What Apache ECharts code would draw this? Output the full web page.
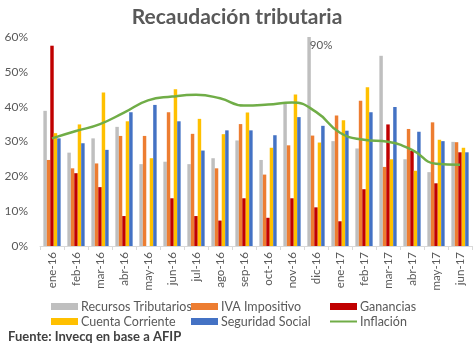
<!DOCTYPE html>
<html>
<head>
<meta charset="utf-8">
<script src="https://cdn.jsdelivr.net/npm/echarts@6/dist/echarts.min.js"></script>
<style>html,body{margin:0;padding:0;background:#fff}#c{width:474px;height:346px}</style>
</head>
<body>
<div id="c"></div>
<script>
const categories = ['ene-16','feb-16','mar-16','abr-16','may-16','jun-16','jul-16','ago-16','sep-16','oct-16','nov-16','dic-16','ene-17','feb-17','mar-17','abr-17','may-17','jun-17'];
const recursosTributarios = [38.8, 26.8, 30.9, 34.2, 23.5, 24.2, 23.5, 25.2, 30.3, 24.7, 40.8, 90, 30.1, 28.0, 54.6, 24.9, 21.2, 29.9];
const ivaImpositivo       = [24.7, 22.3, 23.7, 31.6, 31.6, 38.4, 32.2, 22.3, 35.0, 20.5, 28.9, 31.7, 37.5, 41.7, 22.7, 33.6, 35.5, 29.8];
const ganancias           = [57.5, 20.9, 16.9, 8.6, -0.4, 13.7, 8.6, 7.3, 13.7, 8.1, 13.7, 11.1, 7.1, 16.3, 34.9, 27.3, 18.0, 26.9];
const cuentaCorriente     = [32.4, 34.9, 44.1, 35.8, 25.2, 45.0, 36.5, 32.1, 38.3, 28.2, 43.5, 29.7, 36.1, 45.6, 24.9, 21.6, 30.5, 28.2];
const seguridadSocial     = [30.9, 29.5, 27.6, 38.4, 40.5, 35.8, 27.4, 33.2, 33.2, 31.8, 37.0, 34.5, 33.1, 38.4, 39.9, 32.8, 30.1, 26.9];
const inflacion           = [30.9, 33.0, 35.0, 38.3, 41.8, 42.9, 43.4, 42.4, 40.3, 40.6, 41.2, 38.5, 32.5, 30.5, 29.9, 27.6, 23.6, 23.3];
const yTicks = [0, 10, 20, 30, 40, 50, 60];
const clippedLabel = {category: 'dic-16', text: '90%'};

const colors = ['#BFBFBF', '#ED7D31', '#C00000', '#FFC000', '#4472C4', '#70AD47'];
const names = ['Recursos Tributarios', 'IVA Impositivo', 'Ganancias', 'Cuenta Corriente', 'Seguridad Social', 'Inflación'];
const font = 'Lato, "Open Sans", sans-serif';
const txt = '#595959';

const barData = [recursosTributarios, ivaImpositivo, ganancias, cuentaCorriente, seguridadSocial];
const series = barData.map((d, i) => ({
  name: names[i], type: 'bar', data: d,
  barGap: '0%', barCategoryGap: '28%',
  itemStyle: {color: colors[i]},
  clip: true, z: 2
}));
series[0].markPoint = {
  symbol: 'rect', symbolSize: 0,
  data: [{coord: [clippedLabel.category, yTicks[yTicks.length-1]], value: clippedLabel.text}],
  label: {show: true, formatter: clippedLabel.text, color: txt, fontFamily: font, fontSize: 11.5, offset: [12, 8]}
};
series.push({
  name: names[5], type: 'line', data: inflacion, smooth: 0.5, showSymbol: false, symbol: 'none',
  lineStyle: {color: colors[5], width: 2.5}, itemStyle: {color: colors[5]}, z: 5
});

const legendPos = [[46, 295], [186, 295], [325, 295], [46, 310], [186, 310], [325, 310]];
const legends = names.map((n, i) => ({
  data: [n], left: legendPos[i][0], top: legendPos[i][1], itemWidth: 27,
  itemHeight: i === 5 ? 2 : 7, icon: 'rect', itemGap: 0,
  textStyle: {color: txt, fontFamily: font, fontSize: 12.5, padding: [0, 0, 0, -2]},
  selectedMode: false
}));

const chart = echarts.init(document.getElementById('c'), null, {renderer: 'canvas'});
chart.setOption({
  animation: false,
  title: {text: 'Recaudación tributaria', left: 'center', top: 2,
    textStyle: {fontFamily: font, fontSize: 21, fontWeight: 'bold', color: '#595959'}},
  legend: legends,
  grid: {left: 40, right: 2, top: 37, bottom: 100},
  xAxis: {type: 'category', data: categories,
    axisLine: {lineStyle: {color: '#D9D9D9'}},
    axisTick: {show: true, lineStyle: {color: '#D9D9D9'}, length: 4},
    axisLabel: {rotate: 90, color: txt, fontFamily: font, fontSize: 11.5, margin: 6, interval: 0}},
  yAxis: {type: 'value', min: yTicks[0], max: yTicks[yTicks.length-1], interval: 10,
    splitLine: {show: false},
    axisLabel: {formatter: '{value}%', color: txt, fontFamily: font, fontSize: 12, margin: 12}},
  graphic: [{type: 'text', left: 8, top: 330,
    style: {text: 'Fuente: Invecq en base a AFIP', fill: '#404040', font: 'bold 13px ' + font}}],
  series: series
});
</script>
</body>
</html>
